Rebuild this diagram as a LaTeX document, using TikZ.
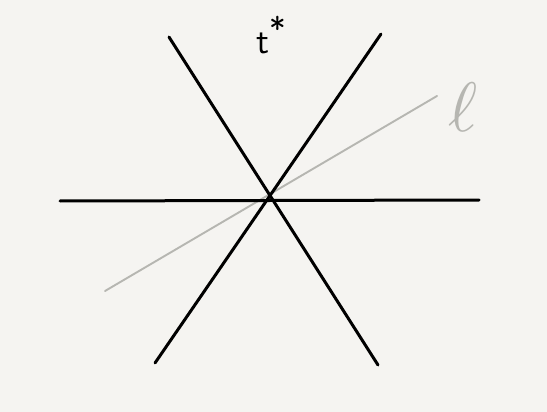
\documentclass[tikz,border=0pt]{standalone}
\usepackage{graphicx}
\begin{document}
\begin{tikzpicture}[x=1pt,y=-1pt,
  blackline/.style={line width=3pt,black,line cap=round}]
\definecolor{bg}{HTML}{F5F4F1}
\definecolor{lgray}{HTML}{B6B6B1}
\fill[bg] (0,0) rectangle (547,412);
\useasboundingbox (0,0) rectangle (547,412);
\coordinate (g1) at (105,291);
\coordinate (g2) at (437,96);
\draw[line width=1.9pt,lgray,line cap=round] (g1) -- (g2);
\coordinate (h1) at (60,201);
\coordinate (h2) at (479,200);
\coordinate (a1) at (169,37);
\coordinate (a2) at (378,365);
\coordinate (b1) at (381,34);
\coordinate (b2) at (155,363);
\draw[blackline] (h1) -- (h2);
\draw[blackline] (a1) -- (a2);
\draw[blackline] (b1) -- (b2);
\node (tstar) at (271,35) {\scalebox{3.6}{\sffamily t\raisebox{0.35em}{\small *}}};
\node[text=lgray] (ell) at (463,107) {\scalebox{7}{$\ell$}};
\end{tikzpicture}
\end{document}
